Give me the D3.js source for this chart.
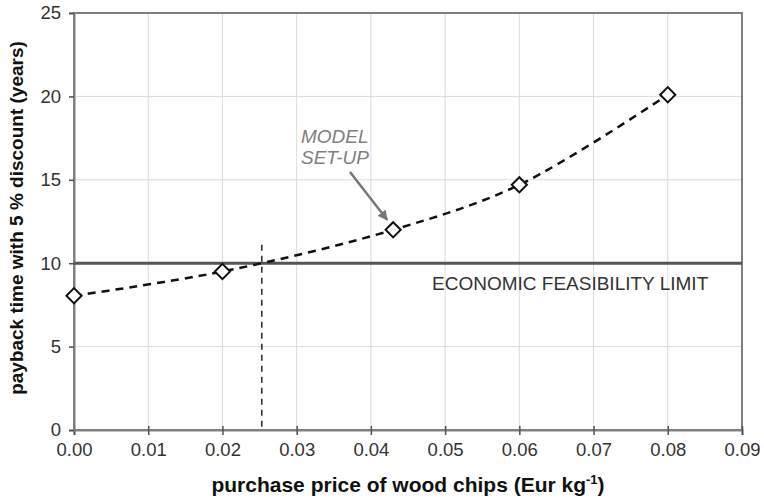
<!DOCTYPE html>
<html>
<head>
<meta charset="utf-8">
<script src="https://cdn.jsdelivr.net/npm/d3@7"></script>
<style>
  html, body { margin: 0; padding: 0; background: #fff; }
  svg { display: block; font-family: "Liberation Sans", Arial, sans-serif; }
</style>
</head>
<body>
<svg id="chart" width="764" height="501"></svg>
<script>
// Wood chip price (Eur/kg) vs. payback time with 5 % discount (years)
const prices = [0.0, 0.02, 0.043, 0.06, 0.08];
const payback = [8.05, 9.5, 12.0, 14.7, 20.1];
const xTicks = [0, 0.01, 0.02, 0.03, 0.04, 0.05, 0.06, 0.07, 0.08, 0.09];
const yTicks = [0, 5, 10, 15, 20, 25];
const feasibilityLimit = [10];
const breakEvenPrice = [0.0253];
const breakEvenTop = [11.1];
const modelSetup = [0.043, 12.0];

const svg = d3.select("#chart");
const m = { left: 74, right: 22, top: 13, bottom: 71 };
const W = 764, H = 501;

const x = d3.scaleLinear().domain([0, 0.09]).range([m.left, W - m.right]);
const y = d3.scaleLinear().domain([0, 25]).range([H - m.bottom, m.top]);

// grid
svg.append("g").selectAll("line.vg").data(xTicks.slice(1, -1)).join("line")
  .attr("x1", d => x(d)).attr("x2", d => x(d))
  .attr("y1", y(0)).attr("y2", y(25))
  .attr("stroke", "#dcdcdc").attr("stroke-width", 1);
svg.append("g").selectAll("line.hg").data(yTicks.slice(1, -1)).join("line")
  .attr("x1", x(0)).attr("x2", x(0.09))
  .attr("y1", d => y(d)).attr("y2", d => y(d))
  .attr("stroke", "#dcdcdc").attr("stroke-width", 1);

// frame
svg.append("rect")
  .attr("x", x(0)).attr("y", y(25))
  .attr("width", x(0.09) - x(0)).attr("height", y(0) - y(25))
  .attr("fill", "none").attr("stroke", "#808080").attr("stroke-width", 2);

// axes
const xAxis = svg.append("g").attr("transform", `translate(0,${y(0)})`)
  .call(d3.axisBottom(x).tickValues(xTicks).tickFormat(d3.format(".2f")).tickSize(5).tickPadding(8));
const yAxis = svg.append("g").attr("transform", `translate(${x(0)},0)`)
  .call(d3.axisLeft(y).tickValues(yTicks).tickSize(5).tickPadding(8));
[xAxis, yAxis].forEach(a => {
  a.select(".domain").attr("stroke", "#808080").attr("stroke-width", 2);
  a.selectAll(".tick line").attr("stroke", "#505050").attr("stroke-width", 1.5);
  a.selectAll(".tick text").attr("fill", "#333").style("font-size", "18.5px")
    .style("font-family", "'Liberation Sans', Arial, sans-serif");
});
xAxis.selectAll(".tick line").attr("y1", -4);
yAxis.selectAll(".tick line").attr("x1", -5).attr("x2", 0);

// feasibility limit
svg.append("line")
  .attr("x1", x(0)).attr("x2", x(0.09))
  .attr("y1", y(feasibilityLimit[0])).attr("y2", y(feasibilityLimit[0]))
  .attr("stroke", "#555").attr("stroke-width", 3);
svg.append("text")
  .attr("x", 432).attr("y", y(feasibilityLimit[0]) + 27)
  .attr("fill", "#333").style("font-size", "19px")
  .text("ECONOMIC FEASIBILITY LIMIT");

// break-even price marker
svg.append("line")
  .attr("x1", x(breakEvenPrice[0])).attr("x2", x(breakEvenPrice[0]))
  .attr("y1", y(breakEvenTop[0])).attr("y2", y(0))
  .attr("stroke", "#333").attr("stroke-width", 1.6)
  .attr("stroke-dasharray", "6,5");

// payback curve
const pts = prices.map((p, i) => [p, payback[i]]);
svg.append("path")
  .datum(pts)
  .attr("d", d3.line().x(d => x(d[0])).y(d => y(d[1])).curve(d3.curveCatmullRom.alpha(0.5)))
  .attr("fill", "none").attr("stroke", "#111").attr("stroke-width", 2.5)
  .attr("stroke-dasharray", "8,6");

svg.append("g").selectAll("path.pt").data(pts).join("path")
  .attr("d", d3.symbol().type(d3.symbolSquare).size(115))
  .attr("transform", d => `translate(${x(d[0])},${y(d[1])}) rotate(45)`)
  .attr("fill", "#fff").attr("stroke", "#111").attr("stroke-width", 2);

// model set-up annotation
svg.append("defs").append("marker")
  .attr("id", "arr").attr("viewBox", "0 0 10 10")
  .attr("refX", 9).attr("refY", 5)
  .attr("markerWidth", 4).attr("markerHeight", 4)
  .attr("orient", "auto")
  .append("path").attr("d", "M0,0 L10,5 L0,10 Z").attr("fill", "#777");
svg.append("line")
  .attr("x1", 350).attr("y1", 172)
  .attr("x2", x(modelSetup[0]) - 6).attr("y2", y(modelSetup[1]) - 10)
  .attr("stroke", "#777").attr("stroke-width", 2.5)
  .attr("marker-end", "url(#arr)");
const ann = svg.append("text").attr("fill", "#808080")
  .style("font-size", "19px").style("font-style", "italic");
ann.append("tspan").attr("x", 301).attr("y", 143).text("MODEL");
ann.append("tspan").attr("x", 301).attr("y", 164).text("SET-UP");

// axis titles
const xt = svg.append("text")
  .attr("x", 408).attr("y", 492)
  .attr("text-anchor", "middle").attr("fill", "#111")
  .style("font-size", "21px").style("font-weight", "bold");
xt.append("tspan").text("purchase price of wood chips (Eur kg");
xt.append("tspan").attr("dy", -8).style("font-size", "13px").text("-1");
xt.append("tspan").attr("dy", 8).text(")");

svg.append("text")
  .attr("transform", `translate(23,218) rotate(-90)`)
  .attr("text-anchor", "middle").attr("fill", "#111")
  .style("font-size", "19px").style("font-weight", "bold")
  .text("payback time with 5 % discount (years)");
</script>
</body>
</html>
